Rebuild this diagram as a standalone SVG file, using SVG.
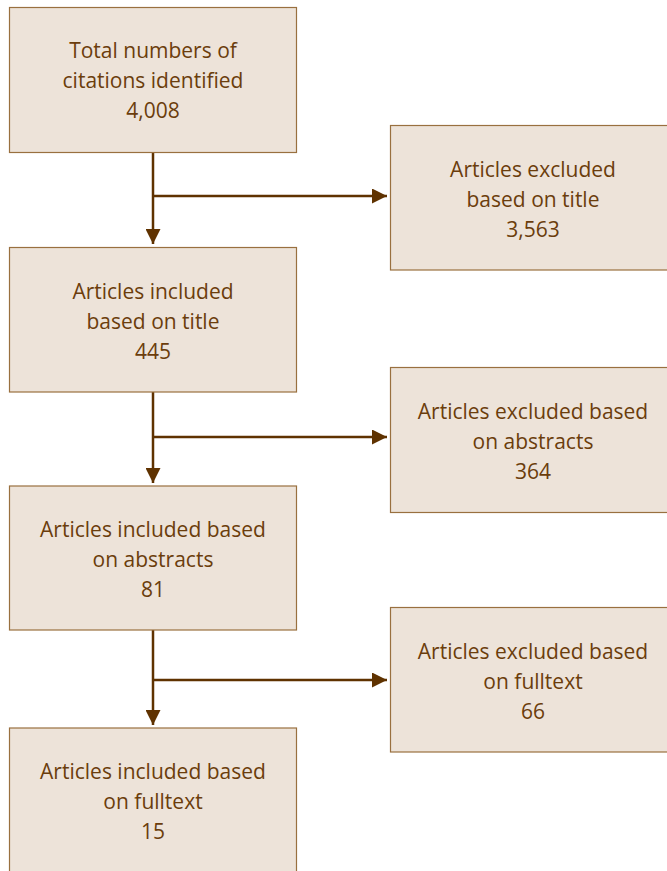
<svg xmlns="http://www.w3.org/2000/svg" width="667" height="871" viewBox="0 0 667 871">
<style>
.box{fill:#ede3d9;stroke:#99703f;stroke-width:1.2}
.t{font-family:"Open Sans","Noto Sans",sans-serif;font-size:21px;fill:#6b3d0c;text-anchor:middle}
.c{stroke:#5f3200;stroke-width:2.5;fill:none}
</style>
<defs>
<marker id="a" viewBox="0 0 10 10" refX="10" refY="5" markerWidth="6" markerHeight="6" orient="auto" markerUnits="strokeWidth">
<path d="M0,0L10,5L0,10Z" fill="#5f3200"/>
</marker>
</defs>
<g id="connectors">
<path class="c" d="M153,152V244" marker-end="url(#a)"/>
<path class="c" d="M153,196H387" marker-end="url(#a)"/>
<path class="c" d="M153,392V483" marker-end="url(#a)"/>
<path class="c" d="M153,437H387" marker-end="url(#a)"/>
<path class="c" d="M153,630V725" marker-end="url(#a)"/>
<path class="c" d="M153,680H387" marker-end="url(#a)"/>
</g>
<g id="n1"><rect class="box" x="9.5" y="7.5" width="287" height="145"/>
<text class="t" x="153" y="58">Total numbers of</text><text class="t" x="153" y="88">citations identified</text><text class="t" x="153" y="118">4,008</text></g>
<g id="n2"><rect class="box" x="9.5" y="247.5" width="287" height="144.5"/>
<text class="t" x="153" y="299">Articles included</text><text class="t" x="153" y="329">based on title</text><text class="t" x="153" y="359">445</text></g>
<g id="n3"><rect class="box" x="9.5" y="486" width="287" height="144"/>
<text class="t" x="153" y="537">Articles included based</text><text class="t" x="153" y="567">on abstracts</text><text class="t" x="153" y="597">81</text></g>
<g id="n4"><rect class="box" x="9.5" y="728" width="287" height="150"/>
<text class="t" x="153" y="779">Articles included based</text><text class="t" x="153" y="809">on fulltext</text><text class="t" x="153" y="839">15</text></g>
<g id="e1"><rect class="box" x="390.5" y="125.5" width="280" height="144.5"/>
<text class="t" x="533" y="177">Articles excluded</text><text class="t" x="533" y="207">based on title</text><text class="t" x="533" y="237">3,563</text></g>
<g id="e2"><rect class="box" x="390.5" y="367.5" width="280" height="145"/>
<text class="t" x="533" y="419">Articles excluded based</text><text class="t" x="533" y="449">on abstracts</text><text class="t" x="533" y="479">364</text></g>
<g id="e3"><rect class="box" x="390.5" y="607.5" width="280" height="144.5"/>
<text class="t" x="533" y="659">Articles excluded based</text><text class="t" x="533" y="689">on fulltext</text><text class="t" x="533" y="719">66</text></g>
</svg>
